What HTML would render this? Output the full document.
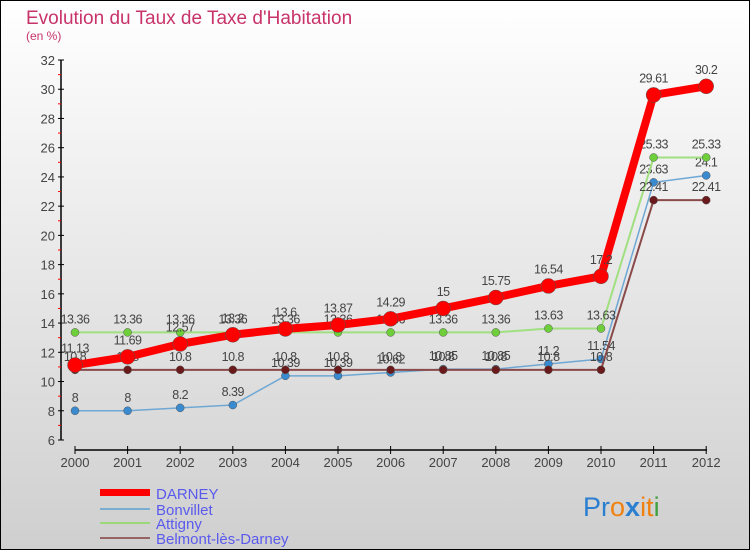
<!DOCTYPE html>
<html><head><meta charset="utf-8"><style>
body{margin:0}
svg text{font-family:"Liberation Sans",sans-serif}
</style></head><body>
<svg id="c" width="750" height="550" xmlns="http://www.w3.org/2000/svg">
<defs><linearGradient id="bg" x1="0" y1="0" x2="0" y2="1"><stop offset="0" stop-color="#ffffff"/><stop offset="1" stop-color="#cfcfcf"/></linearGradient></defs>
<rect x="0.5" y="0.5" width="749" height="549" fill="url(#bg)" stroke="#000"/>
<text x="26" y="24" font-size="19" fill="#c8336a">Evolution du Taux de Taxe d'Habitation</text>
<text x="26" y="40" font-size="12" fill="#c8336a">(en %)</text>
<g id="axes"></g>
<g id="series"></g>
<g id="legend">
<rect x="100" y="489" width="50" height="7" fill="#f00"/>
<text x="156" y="499" font-size="15" fill="#5a5aee">DARNEY</text>
<rect x="100" y="508" width="50" height="2" fill="#7aaed0"/>
<text x="156" y="515" font-size="15" fill="#5a5aee">Bonvillet</text>
<rect x="100" y="522" width="50" height="2" fill="#9ad87a"/>
<text x="156" y="529" font-size="15" fill="#5a5aee">Attigny</text>
<rect x="100" y="537" width="50" height="2" fill="#956565"/>
<text x="156" y="544" font-size="15" fill="#5a5aee">Belmont-lès-Darney</text>
</g>
<text x="583" y="516" font-size="27"><tspan fill="#2a7fd0">Pr</tspan><tspan fill="#f08010">o</tspan><tspan fill="#2a7fd0" font-weight="bold">x</tspan><tspan fill="#f08010">it</tspan><tspan fill="#40a040">i</tspan></text>
</svg>
<script>
const years=[2000,2001,2002,2003,2004,2005,2006,2007,2008,2009,2010,2011,2012];
const darney=[11.13,11.69,12.57,13.2,13.6,13.87,14.29,15,15.75,16.54,17.2,29.61,30.2];
const bonvillet=[8,8,8.2,8.39,10.39,10.39,10.62,10.85,10.85,11.2,11.54,23.63,24.1];
const attigny=[13.36,13.36,13.36,13.36,13.36,13.36,13.36,13.36,13.36,13.63,13.63,25.33,25.33];
const belmont=[10.8,10.8,10.8,10.8,10.8,10.8,10.8,10.8,10.8,10.8,10.8,22.41,22.41];
const yTicks=[6,8,10,12,14,16,18,20,22,24,26,28,30,32];
const NS="http://www.w3.org/2000/svg";
const xs=i=>75+i*52.6;
const ys=v=>60+(32-v)*14.615;
function mk(tag,attrs,parent){const e=document.createElementNS(NS,tag);for(const k in attrs)e.setAttribute(k,attrs[k]);parent.appendChild(e);return e;}
const ax=document.getElementById('axes');
let l=mk('line',{x1:61,y1:60,x2:61,y2:440,stroke:'#000','stroke-width':1.5},ax);


l=mk('line',{x1:75,y1:450,x2:707,y2:450,stroke:'#000','stroke-width':1.5},ax);


yTicks.forEach(v=>{
  mk('line',{x1:58,y1:ys(v),x2:64,y2:ys(v),stroke:'#000'},ax);
  if(v<32) mk('line',{x1:58,y1:ys(v+1),x2:61,y2:ys(v+1),stroke:'#f00'},ax);
  const t=mk('text',{x:55,y:ys(v)+5,'font-size':13,'text-anchor':'end',fill:'#444'},ax);
  t.textContent=v;
  
  
});
years.forEach((y,i)=>{
  mk('line',{x1:xs(i),y1:446,x2:xs(i),y2:454,stroke:'#000'},ax);
  const t=mk('text',{x:xs(i),y:467,'font-size':13,'text-anchor':'middle',fill:'#444'},ax);
  t.textContent=y;
  
  
});
const sg=document.getElementById('series');
function series(vals,name,line,dot,lw,r){
  const g=mk('g',{},sg);
  
  
  const p=mk('polyline',{points:vals.map((v,i)=>xs(i)+','+ys(v)).join(' '),fill:'none',stroke:line,'stroke-width':lw,'stroke-linejoin':'round'},g);
  
  
  vals.forEach((v,i)=>{
    const c=mk('circle',{cx:xs(i),cy:ys(v),r:r,fill:dot,stroke:'#555','stroke-width':0.5},g);
    
    
    const t=mk('text',{x:xs(i),y:ys(v)-(r+5),'font-size':12.5,'text-anchor':'middle',fill:'#444','letter-spacing':'-0.5'},g);
    t.textContent=v;
    
    
  });
}
series(bonvillet,'bonvillet','#6fa8d4','#3a8ad0',1.5,4);
series(attigny,'attigny','#a0e080','#6fcf3a',2,4);
series(belmont,'belmont','#8a4a4a','#6a1a1a',2,4);
series(darney,'darney','#f00','#f00',8,7.5);
</script>
</body></html>
